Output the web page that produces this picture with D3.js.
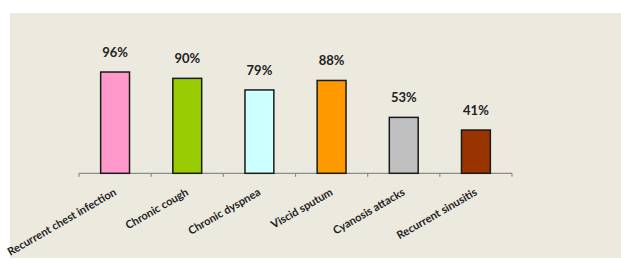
<!DOCTYPE html>
<html lang="en">
<head>
    <meta charset="UTF-8">
    <title>Symptoms</title>
    <script src="https://cdn.jsdelivr.net/npm/d3@7"></script>
    <style>
        body{ margin:0; background:#fff; }
        svg{ position:absolute; left:0px; top:0px; }
    </style>
</head>
<body>
    <svg id="chart" width="621" height="260"></svg>
    <script>
        // data
        var categories = ["Recurrent chest infection", "Chronic cough", "Chronic dyspnea",
                          "Viscid sputum", "Cyanosis attacks", "Recurrent sinusitis"]
        var values = [96, 90, 79, 88, 53, 41]
        var colors = ["#ff99cc", "#99cc00", "#ccffff", "#ff9900", "#c0c0c0", "#993300"]

        var font = "Lato, 'Open Sans', sans-serif"
        var svg = d3.select("#chart")

        // beige panel
        svg.append("rect")
            .attr("x", 10).attr("y", 13)
            .attr("width", 611).attr("height", 245)
            .attr("fill", "#ece9df")

        var left = 79, right = 512, base = 173.3

        var x = d3.scaleBand()
                .domain(categories)
                .range([left, right])
                .paddingInner(0.6)
                .paddingOuter(0.3)

        var y = d3.scaleLinear()
                .domain([0, 100])
                .range([base, base - 105.5])

        // axis line + boundary ticks
        var step = (right - left) / categories.length
        svg.append("line")
            .attr("x1", left).attr("x2", right)
            .attr("y1", base).attr("y2", base)
            .attr("stroke", "#8c8c8c").attr("stroke-width", 1.2)

        svg.selectAll(".tick")
            .data(d3.range(categories.length + 1))
            .enter().append("line")
            .attr("x1", function(i){ return left + i * step })
            .attr("x2", function(i){ return left + i * step })
            .attr("y1", base).attr("y2", base + 3.5)
            .attr("stroke", "#8c8c8c").attr("stroke-width", 1.2)

        // bars
        svg.selectAll(".bar")
            .data(values)
            .enter().append("rect")
            .attr("x", function(d, i){ return x(categories[i]) })
            .attr("y", function(d){ return y(d) })
            .attr("width", x.bandwidth())
            .attr("height", function(d){ return base - y(d) })
            .attr("fill", function(d, i){ return colors[i] })
            .attr("stroke", "#1a1a1a")
            .attr("stroke-width", 1.5)

        // value labels
        svg.selectAll(".val")
            .data(values)
            .enter().append("text")
            .attr("x", function(d, i){ return x(categories[i]) + x.bandwidth() / 2 })
            .attr("y", function(d){ return y(d) - 15 })
            .attr("text-anchor", "middle")
            .attr("font-family", font)
            .attr("font-weight", "bold")
            .attr("font-size", 13)
            .attr("fill", "#222")
            .text(function(d){ return d + "%" })

        // category labels, rotated
        svg.selectAll(".cat")
            .data(categories)
            .enter().append("text")
            .attr("transform", function(d){
                return "translate(" + (x(d) + x.bandwidth() / 2 + 2) + "," + (base + 21) + ") rotate(-30)"
            })
            .attr("text-anchor", "end")
            .attr("font-family", font)
            .attr("font-weight", "bold")
            .attr("font-size", 11)
            .attr("fill", "#222")
            .text(function(d){ return d })
    </script>
</body>
</html>
